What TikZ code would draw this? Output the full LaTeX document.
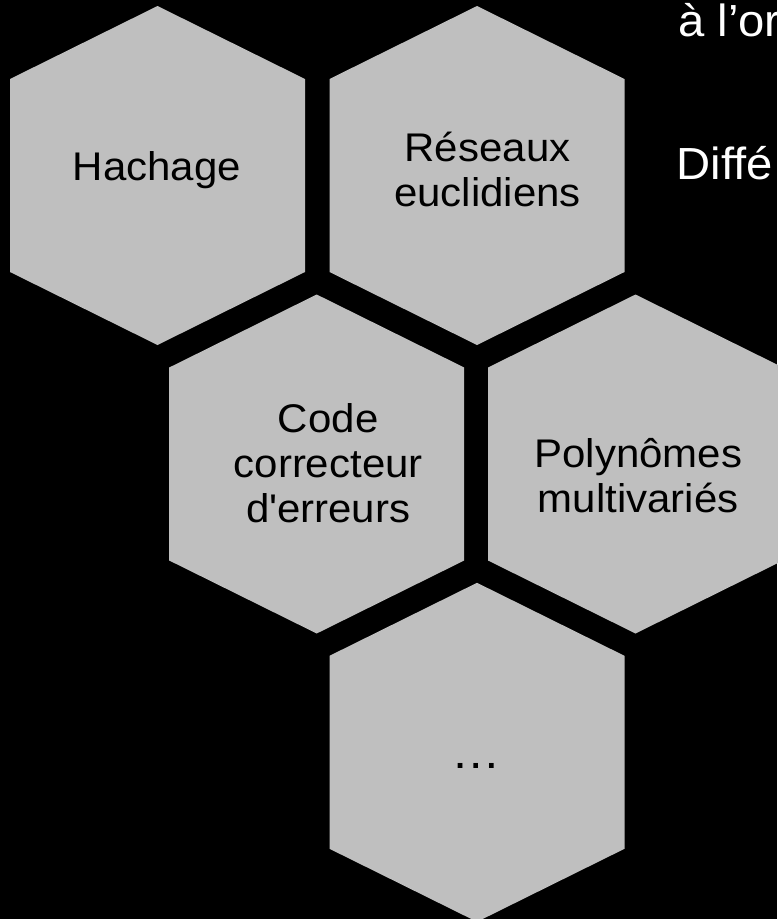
\documentclass[tikz,border=0pt]{standalone}
\usepackage{fontspec}
\setmainfont{Liberation Sans}[FakeStretch=1.05]
\definecolor{cellgrey}{RGB}{191,191,191}

\begin{document}
\begin{tikzpicture}[x=1pt, y=-1pt,
  cell/.style={fill=cellgrey},
  celltext/.style={font=\fontsize{40}{45}\selectfont, align=center, inner sep=0pt, anchor=base},
  slidetext/.style={text=white, font=\fontsize{45}{50}\selectfont, inner sep=0pt, anchor=base west}]
  % The black slide, and the frame that we keep of it.
  \fill[black] (0,0) rectangle (777,919);
  \useasboundingbox (0,0) rectangle (777,919);
  % The honeycomb: five cells, pointy side up.
  \foreach \cx/\cy in {157.5/175.5, 477/175.5, 316.7/464, 635.5/464, 477/752.3}
    \fill[cell] (\cx,\cy) ++(0,-169.5) -- ++(147.5,73) -- ++(0,193)
      -- ++(-147.5,73) -- ++(-147.5,-73) -- ++(0,-193) -- cycle;
  % What each cell holds (base = last line).
  \node[celltext] (hachage) at (157,180.7) {Hachage};
  \node[celltext] (reseaux) at (487.5,206.7) {Réseaux\\euclidiens};
  \node[celltext] (codes) at (328.2,522.7) {Code\\correcteur\\d\textquotesingle erreurs};
  \node[celltext] (polynomes) at (638.3,512) {Polynômes\\multivariés};
  \node[celltext, font=\fontsize{47}{50}\selectfont] (autres) at (476,768) {…};
  % The slide text, cut by the right edge.
  \node[slidetext] (ligneor) at (678,36) {à l’or};
  \node[slidetext] (lignediff) at (676.5,179) {Diffé};
\end{tikzpicture}
\end{document}
